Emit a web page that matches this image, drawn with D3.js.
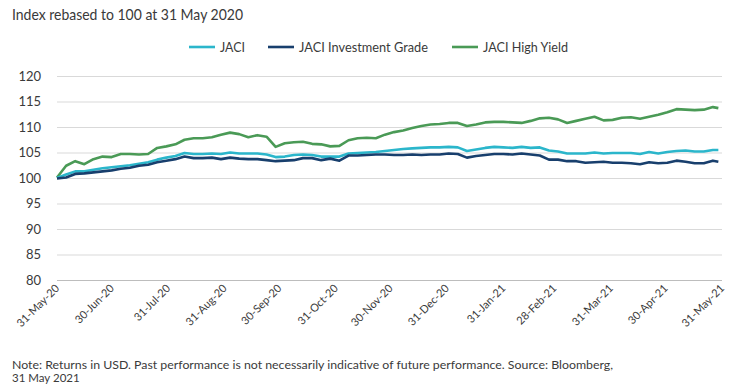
<!DOCTYPE html>
<html>
<head>
<meta charset="utf-8">
<script src="https://cdn.jsdelivr.net/npm/d3@7"></script>
<style>
  html, body { margin: 0; padding: 0; background: #fff; }
  svg { display: block; font-family: Lato, "Noto Sans", sans-serif; }
</style>
</head>
<body>
<svg id="chart" width="738" height="392"></svg>
<script>
// ---------- DATA ----------
const dates = [
  "2020-05-31","2020-06-05","2020-06-10","2020-06-15","2020-06-20","2020-06-25","2020-06-30",
  "2020-07-05","2020-07-10","2020-07-15","2020-07-20","2020-07-25","2020-07-30",
  "2020-08-04","2020-08-09","2020-08-14","2020-08-19","2020-08-24","2020-08-29",
  "2020-09-03","2020-09-08","2020-09-13","2020-09-18","2020-09-23","2020-09-28",
  "2020-10-03","2020-10-08","2020-10-13","2020-10-18","2020-10-23","2020-10-28",
  "2020-11-02","2020-11-07","2020-11-12","2020-11-17","2020-11-22","2020-11-27",
  "2020-12-02","2020-12-07","2020-12-12","2020-12-17","2020-12-22","2020-12-27",
  "2021-01-01","2021-01-06","2021-01-11","2021-01-16","2021-01-21","2021-01-26","2021-01-31",
  "2021-02-05","2021-02-10","2021-02-15","2021-02-20","2021-02-25",
  "2021-03-02","2021-03-07","2021-03-12","2021-03-17","2021-03-22","2021-03-27",
  "2021-04-01","2021-04-06","2021-04-11","2021-04-16","2021-04-21","2021-04-26",
  "2021-05-01","2021-05-06","2021-05-11","2021-05-16","2021-05-21","2021-05-26","2021-05-29"
];

const jaci = [
  100.0,100.7,101.3,101.3,101.6,101.9,102.1,
  102.3,102.5,102.8,103.1,103.6,104.0,
  104.3,104.9,104.7,104.7,104.8,104.7,
  105.0,104.8,104.8,104.8,104.6,104.1,
  104.2,104.5,104.6,104.5,104.2,104.2,
  104.2,104.8,104.9,105.0,105.1,105.3,
  105.5,105.7,105.8,105.9,106.0,106.0,
  106.1,106.0,105.3,105.6,105.9,106.1,106.0,
  105.9,106.1,105.9,106.0,105.4,
  105.2,104.8,104.8,104.8,105.0,104.8,
  104.9,104.9,104.9,104.7,105.1,104.8,
  105.1,105.3,105.4,105.2,105.2,105.5,105.5
];

const jaciIG = [
  99.9,100.1,100.8,100.9,101.1,101.3,101.5,
  101.8,102.0,102.4,102.6,103.1,103.4,
  103.7,104.2,103.9,103.9,104.0,103.7,
  104.0,103.8,103.7,103.7,103.5,103.3,
  103.4,103.5,103.9,103.9,103.5,103.8,
  103.4,104.4,104.4,104.5,104.6,104.6,
  104.5,104.5,104.6,104.5,104.6,104.6,
  104.8,104.7,104.0,104.3,104.5,104.7,104.7,
  104.6,104.8,104.6,104.4,103.6,
  103.6,103.3,103.3,103.0,103.1,103.2,
  103.0,103.0,102.9,102.7,103.1,102.9,
  103.0,103.4,103.2,102.9,102.9,103.4,103.2
];

const jaciHY = [
  100.1,102.4,103.3,102.7,103.7,104.2,104.1,
  104.7,104.7,104.6,104.7,105.9,106.2,
  106.6,107.5,107.8,107.8,108.0,108.5,
  108.9,108.6,108.0,108.4,108.1,106.1,
  106.8,107.0,107.1,106.7,106.6,106.2,
  106.3,107.4,107.8,107.9,107.8,108.5,
  109.0,109.3,109.8,110.2,110.5,110.6,
  110.8,110.8,110.2,110.5,110.9,111.0,111.0,
  110.9,110.8,111.2,111.7,111.8,
  111.5,110.8,111.2,111.6,112.0,111.3,
  111.4,111.8,111.9,111.6,112.0,112.4,
  112.9,113.5,113.4,113.3,113.4,113.9,113.7
];

const seriesNames = ["JACI", "JACI Investment Grade", "JACI High Yield"];
const seriesColors = ["#2bb6cb", "#183f6d", "#4a9a56"];

const xTickLabels = ["31-May-20","30-Jun-20","31-Jul-20","31-Aug-20","30-Sep-20","31-Oct-20",
  "30-Nov-20","31-Dec-20","31-Jan-21","28-Feb-21","31-Mar-21","30-Apr-21","31-May-21"];
const yTicks = [80, 85, 90, 95, 100, 105, 110, 115, 120];

const titleText = "Index rebased to 100 at 31 May 2020";
const noteLines = [
  "Note: Returns in USD. Past performance is not necessarily indicative of future performance. Source: Bloomberg,",
  "31 May 2021"
];

// ---------- CHART ----------
const svg = d3.select("#chart");
const parseDate = d3.timeParse("%Y-%m-%d");
const parseTick = d3.timeParse("%d-%b-%y");

const x = d3.scaleTime()
  .domain([parseDate("2020-05-31"), parseDate("2021-05-31")])
  .range([57, 722]);
const y = d3.scaleLinear().domain([80, 120]).range([280, 76]);

const textColor = "#3a3a3a";

// title
svg.append("text")
  .attr("x", 12).attr("y", 20)
  .attr("font-size", 15).attr("fill", textColor)
  .attr("textLength", 231).attr("lengthAdjust", "spacingAndGlyphs")
  .text(titleText);

// gridlines
const yAxis = d3.axisLeft(y).tickValues(yTicks).tickSize(-(722 - 57)).tickPadding(16);
const gY = svg.append("g").attr("transform", "translate(57,0)").call(yAxis);
gY.select(".domain").remove();
gY.selectAll(".tick line")
  .attr("stroke", d => d === 80 ? "#bdbdbd" : "#d9d9d9")
  .attr("stroke-width", 1);
gY.selectAll(".tick text")
  .attr("font-size", 13).attr("fill", textColor)
  .attr("font-family", "Lato, 'Noto Sans', sans-serif");

// x labels
const tickDates = xTickLabels.map(parseTick);
const gX = svg.append("g");
gX.selectAll("text").data(xTickLabels).join("text")
  .attr("transform", (d, i) => `translate(${x(tickDates[i]) + 3},${289}) rotate(-45)`)
  .attr("text-anchor", "end")
  .attr("font-size", 11).attr("fill", textColor)
  .text(d => d);

// lines
const allSeries = [jaci, jaciIG, jaciHY];
const dateObjs = dates.map(parseDate);
const line = d3.line()
  .x((d, i) => x(dateObjs[i]))
  .y(d => y(d))
  .curve(d3.curveLinear);

// draw HY, then JACI, then IG? keep order so IG is above JACI where they meet
[2, 0, 1].forEach(k => {
  svg.append("path")
    .datum(allSeries[k])
    .attr("fill", "none")
    .attr("stroke", seriesColors[k])
    .attr("stroke-width", 2.6)
    .attr("stroke-linejoin", "round")
    .attr("d", line);
});

// legend
const legendItems = [
  { lx: 189, tx: 220, w: 25 },
  { lx: 268, tx: 299, w: 129 },
  { lx: 452, tx: 483, w: 85 }
];
const legend = svg.append("g");
legendItems.forEach((it, i) => {
  legend.append("line")
    .attr("x1", it.lx).attr("x2", it.lx + 26)
    .attr("y1", 47).attr("y2", 47)
    .attr("stroke", seriesColors[i]).attr("stroke-width", 2.6);
  legend.append("text")
    .attr("x", it.tx).attr("y", 51.5)
    .attr("font-size", 13).attr("fill", textColor)
    .attr("textLength", it.w).attr("lengthAdjust", "spacingAndGlyphs")
    .text(seriesNames[i]);
});

// note
svg.append("g").selectAll("text").data(noteLines).join("text")
  .attr("x", 12).attr("y", (d, i) => 369 + i * 13)
  .attr("font-size", 11.5).attr("fill", textColor)
  .each(function(d, i) {
    if (i === 0) d3.select(this).attr("textLength", 601).attr("lengthAdjust", "spacingAndGlyphs");
  })
  .text(d => d);
</script>
</body>
</html>
